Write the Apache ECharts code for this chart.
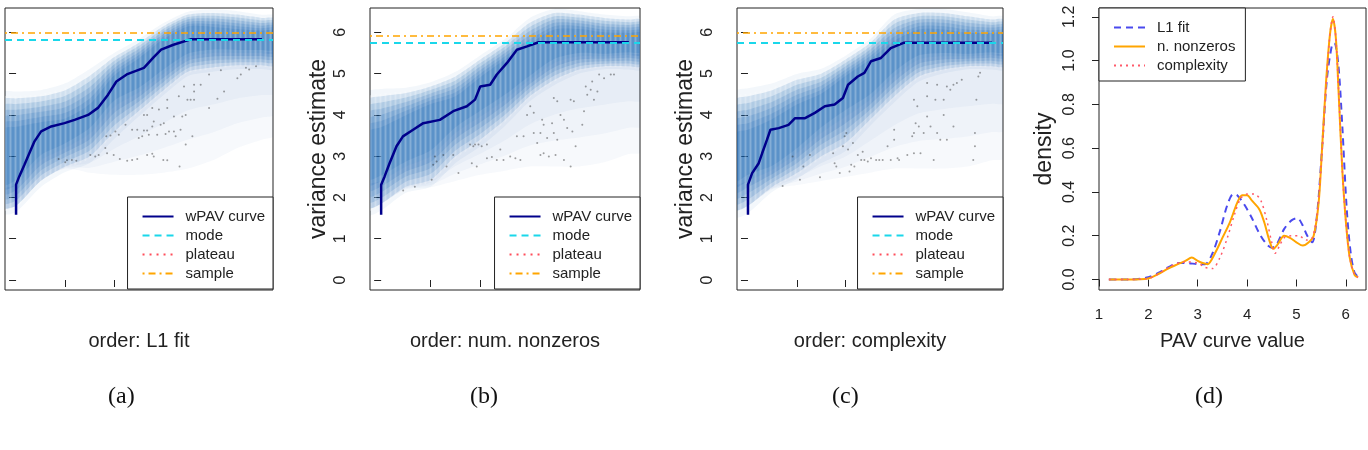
<!DOCTYPE html>
<html>
<head>
<meta charset="utf-8">
<title>wPAV curves by ordering</title>
<script src="https://cdn.jsdelivr.net/npm/echarts@6/dist/echarts.min.js"></script>
<style>
  html, body { margin: 0; padding: 0; background: #fff; }
  #chart { width: 1368px; height: 450px; }
</style>
</head>
<body>
<div id="chart"></div>
<script>
const FONT = '"Liberation Sans", Arial, sans-serif';

// axis text
const orderTitles = ["order: L1 fit", "order: num. nonzeros", "order: complexity"];
const panelTags = ["(a)", "(b)", "(c)", "(d)"];
const varianceTicks = [0, 1, 2, 3, 4, 5, 6];
const orderTicks = [0.2, 0.4, 0.6, 0.8];
const densityTicks = [0, 0.2, 0.4, 0.6, 0.8, 1.0, 1.2];
const pavTicks = [1, 2, 3, 4, 5, 6];
const varLegend = ["wPAV curve", "mode", "plateau", "sample"];
const densLegend = ["L1 fit", "n. nonzeros", "complexity"];

// horizontal reference levels per panel (a, b, c)
const modeValues = [5.83, 5.76, 5.75];
const plateauValues = [5.83, 5.76, 5.75];
const plateauStart = [0.71, 0.636, 0.64];
const sampleValues = [6.0, 5.92, 5.99];

const bandX = [-0.05, 0, 0.1, 0.2, 0.3, 0.4, 0.5, 0.6, 0.7, 0.8, 0.9, 1.0, 1.05];

const outerHiA = [4.37, 4.4, 4.45, 4.6, 4.95, 5.4, 5.75, 6.15, 6.43, 6.47, 6.43, 6.35, 6.33];
const outerLoA = [1.75, 1.8, 2.4, 2.75, 3.0, 3.6, 4.1, 4.6, 5.05, 5.15, 5.2, 5.2, 5.2];
const coreHiA = [3.8, 3.85, 3.95, 4.05, 4.4, 5.05, 5.45, 5.9, 6.2, 6.2, 6.15, 6.1, 6.1];
const coreLoA = [2.2, 2.3, 2.9, 3.2, 3.55, 4.2, 4.55, 5.0, 5.4, 5.5, 5.5, 5.5, 5.5];
const faintLoA = [1.75, 1.8, 2.4, 2.7, 2.6, 2.55, 2.55, 2.6, 2.7, 2.9, 3.2, 3.4, 3.5];

const outerHiB = [4.37, 4.45, 4.53, 4.69, 4.93, 5.34, 5.74, 6.23, 6.47, 6.43, 6.35, 6.31, 6.3];
const outerLoB = [1.75, 1.85, 2.26, 2.43, 3.0, 3.4, 3.88, 4.45, 4.85, 5.1, 5.18, 5.18, 5.18];
const coreHiB = [3.75, 3.85, 4.1, 4.35, 4.55, 5.0, 5.42, 5.83, 6.15, 6.15, 6.07, 6.05, 6.05];
const coreLoB = [2.3, 2.4, 2.75, 3.0, 3.56, 3.96, 4.37, 4.85, 5.26, 5.42, 5.42, 5.45, 5.45];
const faintLoB = [1.75, 1.85, 2.2, 2.25, 2.4, 2.55, 2.65, 2.75, 2.75, 2.75, 2.85, 3.05, 3.1];

const outerHiC = [4.37, 4.45, 4.6, 4.85, 5.0, 5.34, 5.74, 6.31, 6.47, 6.47, 6.39, 6.31, 6.3];
const outerLoC = [1.7, 1.8, 2.26, 2.59, 3.0, 3.32, 3.88, 4.45, 4.93, 5.1, 5.18, 5.18, 5.18];
const coreHiC = [3.72, 3.8, 4.04, 4.37, 4.61, 5.02, 5.42, 5.9, 6.15, 6.15, 6.07, 6.05, 6.05];
const coreLoC = [2.26, 2.4, 2.67, 3.07, 3.56, 3.96, 4.37, 4.93, 5.34, 5.42, 5.42, 5.45, 5.45];
const faintLoC = [1.7, 1.8, 2.2, 2.3, 2.4, 2.5, 2.6, 2.7, 2.7, 2.7, 2.75, 2.9, 2.95];

// wPAV curves [order, variance]
const curveA = [[0, 1.58], [0, 2.31], [0.013, 2.51], [0.034, 2.79], [0.054, 3.07], [0.075, 3.36], [0.102, 3.6], [0.143, 3.72], [0.197, 3.8], [0.238, 3.88], [0.293, 4.0], [0.333, 4.17], [0.374, 4.49], [0.408, 4.81], [0.45, 4.98], [0.52, 5.14], [0.56, 5.4], [0.59, 5.58], [0.64, 5.7], [0.71, 5.83], [1.0, 5.83]];
const curveB = [[0, 1.58], [0, 2.31], [0.014, 2.51], [0.034, 2.83], [0.062, 3.24], [0.088, 3.48], [0.129, 3.64], [0.17, 3.8], [0.237, 3.88], [0.291, 4.09], [0.346, 4.21], [0.379, 4.37], [0.4, 4.69], [0.44, 4.73], [0.467, 4.98], [0.508, 5.26], [0.548, 5.58], [0.589, 5.66], [0.636, 5.76], [1.0, 5.76]];
const curveC = [[0, 1.58], [0, 2.31], [0.017, 2.59], [0.044, 2.83], [0.058, 3.07], [0.078, 3.4], [0.092, 3.64], [0.126, 3.68], [0.166, 3.76], [0.193, 3.92], [0.234, 3.92], [0.274, 4.05], [0.315, 4.21], [0.355, 4.25], [0.389, 4.41], [0.41, 4.73], [0.45, 4.93], [0.477, 5.02], [0.504, 5.3], [0.545, 5.38], [0.585, 5.62], [0.64, 5.75], [1.0, 5.75]];

// scattered points
const dotsA = [[0.173, 2.93], [0.2, 2.85], [0.207, 2.9], [0.227, 2.91], [0.245, 2.89], [0.302, 3.03], [0.322, 2.99], [0.336, 3.03], [0.363, 3.2], [0.37, 3.07], [0.397, 3.03], [0.422, 2.93], [0.452, 2.89], [0.472, 2.91], [0.493, 2.93], [0.533, 3.03], [0.554, 3.06], [0.56, 2.99], [0.599, 2.91], [0.615, 2.9], [0.665, 2.75], [0.367, 3.48], [0.384, 3.5], [0.404, 3.6], [0.418, 3.52], [0.445, 3.76], [0.472, 3.64], [0.493, 3.64], [0.499, 3.44], [0.513, 3.48], [0.52, 3.62], [0.533, 3.62], [0.54, 3.52], [0.554, 3.72], [0.56, 3.84], [0.574, 3.52], [0.588, 3.76], [0.601, 3.8], [0.608, 3.54], [0.622, 3.6], [0.642, 3.6], [0.649, 3.48], [0.669, 3.64], [0.69, 3.28], [0.717, 3.48], [0.52, 4.0], [0.533, 4.0], [0.554, 4.17], [0.581, 4.13], [0.615, 4.37], [0.615, 4.17], [0.642, 3.96], [0.662, 4.45], [0.676, 3.96], [0.69, 4.0], [0.683, 4.69], [0.697, 4.37], [0.71, 4.37], [0.724, 4.37], [0.724, 4.73], [0.751, 4.73], [0.724, 4.57], [0.785, 4.17], [0.819, 4.39], [0.833, 5.08], [0.846, 4.57], [0.9, 4.89], [0.914, 4.98], [0.935, 5.14], [0.948, 5.1], [0.976, 5.18], [0.785, 4.98]];
const dotsB = [[0.089, 2.17], [0.136, 2.26], [0.204, 2.43], [0.21, 2.79], [0.217, 2.99], [0.224, 2.87], [0.251, 3.03], [0.264, 2.75], [0.291, 3.03], [0.312, 2.59], [0.359, 3.28], [0.366, 2.83], [0.372, 3.24], [0.379, 3.28], [0.386, 2.75], [0.393, 3.28], [0.406, 3.24], [0.427, 3.28], [0.427, 2.95], [0.447, 2.98], [0.467, 2.91], [0.494, 2.91], [0.521, 2.99], [0.542, 2.95], [0.562, 2.91], [0.481, 3.16], [0.548, 3.48], [0.575, 3.48], [0.589, 4.0], [0.602, 4.21], [0.616, 3.56], [0.63, 3.32], [0.616, 4.05], [0.643, 3.56], [0.65, 3.88], [0.656, 3.76], [0.67, 3.44], [0.677, 2.99], [0.69, 3.8], [0.697, 4.41], [0.697, 3.56], [0.711, 3.4], [0.724, 4.0], [0.711, 4.33], [0.738, 3.88], [0.738, 2.91], [0.751, 3.68], [0.765, 4.37], [0.772, 3.6], [0.778, 4.33], [0.785, 3.24], [0.812, 3.76], [0.819, 4.09], [0.826, 4.69], [0.832, 4.49], [0.846, 4.61], [0.852, 4.81], [0.859, 4.37], [0.873, 4.57], [0.88, 4.98], [0.9, 4.89], [0.927, 4.98], [0.94, 4.98], [0.765, 2.75], [0.704, 3.03], [0.643, 3.03], [0.656, 3.07]];
const dotsC = [[0.142, 2.28], [0.183, 2.99], [0.213, 2.43], [0.227, 2.75], [0.254, 3.03], [0.295, 2.49], [0.349, 3.07], [0.355, 2.83], [0.362, 2.75], [0.376, 2.59], [0.389, 3.24], [0.396, 3.48], [0.403, 3.56], [0.41, 3.16], [0.416, 2.63], [0.423, 2.79], [0.43, 3.32], [0.436, 2.75], [0.45, 3.03], [0.464, 2.91], [0.47, 3.11], [0.477, 2.91], [0.491, 2.87], [0.504, 2.95], [0.525, 2.91], [0.538, 2.91], [0.552, 2.91], [0.572, 3.24], [0.585, 2.91], [0.599, 3.4], [0.613, 2.95], [0.599, 3.64], [0.619, 2.91], [0.653, 3.03], [0.68, 3.07], [0.68, 3.56], [0.68, 4.37], [0.687, 3.8], [0.694, 4.21], [0.7, 3.72], [0.72, 3.56], [0.734, 4.45], [0.734, 3.96], [0.748, 3.72], [0.761, 2.91], [0.768, 4.37], [0.775, 3.56], [0.788, 3.4], [0.802, 4.37], [0.802, 4.0], [0.815, 4.69], [0.815, 3.4], [0.829, 4.61], [0.842, 3.72], [0.842, 4.73], [0.856, 4.77], [0.876, 4.85], [0.923, 2.91], [0.93, 3.56], [0.936, 4.37], [0.944, 4.93], [0.951, 5.02], [0.93, 3.24], [0.673, 3.48], [0.707, 3.07], [0.775, 4.73], [0.734, 4.77]];

// densities of the PAV curve value [value, density]
const densL1 = [[1.2, 0], [1.6, 0], [2.0, 0.01], [2.2, 0.03], [2.4, 0.055], [2.6, 0.075], [2.8, 0.075], [3.0, 0.07], [3.15, 0.07], [3.3, 0.12], [3.45, 0.22], [3.6, 0.34], [3.72, 0.39], [3.8, 0.385], [3.95, 0.34], [4.1, 0.28], [4.25, 0.21], [4.4, 0.16], [4.5, 0.145], [4.6, 0.16], [4.75, 0.23], [4.9, 0.27], [5.02, 0.28], [5.12, 0.25], [5.22, 0.2], [5.32, 0.17], [5.42, 0.3], [5.52, 0.6], [5.62, 0.92], [5.72, 1.07], [5.77, 1.08], [5.85, 0.98], [5.93, 0.7], [6.02, 0.32], [6.1, 0.12], [6.18, 0.03], [6.26, 0.01]];
const densNonzero = [[1.2, 0], [1.6, 0], [2.0, 0.005], [2.2, 0.025], [2.4, 0.05], [2.6, 0.07], [2.75, 0.085], [2.88, 0.1], [3.0, 0.085], [3.1, 0.075], [3.2, 0.07], [3.35, 0.12], [3.5, 0.19], [3.65, 0.26], [3.8, 0.35], [3.9, 0.385], [4.0, 0.385], [4.1, 0.36], [4.25, 0.32], [4.35, 0.26], [4.45, 0.18], [4.53, 0.14], [4.62, 0.16], [4.75, 0.2], [4.87, 0.19], [5.0, 0.17], [5.13, 0.155], [5.25, 0.17], [5.35, 0.2], [5.45, 0.35], [5.52, 0.6], [5.6, 0.9], [5.68, 1.12], [5.74, 1.19], [5.8, 1.1], [5.86, 0.83], [5.93, 0.5], [6.0, 0.27], [6.08, 0.1], [6.18, 0.02], [6.25, 0.01]];
const densComplexity = [[1.2, 0], [1.6, 0], [2.0, 0.005], [2.2, 0.025], [2.4, 0.055], [2.6, 0.075], [2.8, 0.08], [3.0, 0.075], [3.15, 0.055], [3.3, 0.05], [3.45, 0.1], [3.6, 0.19], [3.75, 0.3], [3.87, 0.37], [4.0, 0.39], [4.15, 0.39], [4.28, 0.36], [4.4, 0.27], [4.5, 0.17], [4.57, 0.12], [4.65, 0.15], [4.75, 0.19], [4.9, 0.2], [5.05, 0.2], [5.2, 0.18], [5.32, 0.19], [5.42, 0.3], [5.52, 0.58], [5.6, 0.88], [5.68, 1.12], [5.74, 1.2], [5.8, 1.1], [5.86, 0.84], [5.93, 0.5], [6.0, 0.27], [6.08, 0.1], [6.18, 0.02], [6.25, 0.01]];

const bands = [
  { hi: outerHiA, lo: outerLoA, cHi: coreHiA, cLo: coreLoA, fLo: faintLoA },
  { hi: outerHiB, lo: outerLoB, cHi: coreHiB, cLo: coreLoB, fLo: faintLoB },
  { hi: outerHiC, lo: outerLoC, cHi: coreHiC, cLo: coreLoC, fLo: faintLoC },
];
const curves = [curveA, curveB, curveC];
const dots = [dotsA, dotsB, dotsC];

// nested shading layers: 0 = outer edge, 1 = dark core
const layerT = [-0.3, 0, 0.25, 0.5, 0.75, 1.0, 1.25];
const layerAlpha = [0.05, 0.15, 0.16, 0.17, 0.17, 0.17, 0.16];
const faintSteps = [0, 1, 2];

// column texture of the binned density image
function makeStripes() {
  const c = document.createElement("canvas");
  c.width = 5;
  c.height = 4;
  const g = c.getContext("2d");
  [0.26, 0.12, 0, 0, 0.12].forEach((a, k) => {
    g.fillStyle = "rgba(255,255,255," + a + ")";
    g.fillRect(k, 0, 1, 4);
  });
  return c;
}
const stripeImage = makeStripes();

const chart = echarts.init(document.getElementById("chart"), null, { renderer: "canvas" });

const gridBoxes = [
  { left: 5, top: 8, width: 268, height: 282 },
  { left: 370, top: 8, width: 270, height: 282 },
  { left: 737, top: 8, width: 266, height: 282 },
  { left: 1099, top: 8, width: 267, height: 282 },
];

const tickStyle = { show: true, length: 7, lineStyle: { color: "#222", width: 1 } };
const nameStyle = { fontFamily: FONT, fontSize: 20, color: "#222" };
const yNameStyle = { fontFamily: FONT, fontSize: 23, color: "#222" };
const labelStyle = { fontFamily: FONT, fontSize: 15, color: "#222" };
const yLabelStyle = { fontFamily: FONT, fontSize: 16, color: "#222" };

function bandPoints(api, b, t) {
  const upper = bandX.map((x, j) => api.coord([x, b.hi[j] + t * (b.cHi[j] - b.hi[j])]));
  const lower = bandX.map((x, j) => api.coord([x, b.lo[j] + t * (b.cLo[j] - b.lo[j])])).reverse();
  return upper.concat(lower);
}

function bandRender(b) {
  return function (params, api) {
    return {
      type: "polygon",
      shape: { points: bandPoints(api, b, layerT[params.dataIndex]), smooth: 0.25 },
      style: { fill: "rgba(15,95,175," + layerAlpha[params.dataIndex] + ")" },
    };
  };
}

function stripeRender(b) {
  return function (params, api) {
    return {
      type: "polygon",
      shape: { points: bandPoints(api, b, -0.1), smooth: 0.25 },
      style: { fill: { image: stripeImage, repeat: "repeat" } },
    };
  };
}

function faintRender(b) {
  return function (params, api) {
    const k = faintSteps[params.dataIndex];
    const upper = bandX.map((x, j) => api.coord([x, b.cLo[j]]));
    const lower = bandX.map((x, j) => api.coord([x, b.fLo[j] + k * 0.3 * (b.lo[j] - b.fLo[j])])).reverse();
    return {
      type: "polygon",
      shape: { points: upper.concat(lower), smooth: 0.25 },
      style: { fill: "rgba(15,95,175,0.035)" },
    };
  };
}

const xAxes = [];
const yAxes = [];
const series = [];

for (let i = 0; i < 3; i++) {
  xAxes.push({
    gridIndex: i, type: "value", min: -0.045, max: 1.045,
    axisLine: { show: false }, splitLine: { show: false },
    axisTick: Object.assign({ customValues: orderTicks }, tickStyle),
    axisLabel: { show: false },
    name: orderTitles[i], nameLocation: "middle", nameGap: 41, nameMoveOverlap: false, nameTextStyle: nameStyle,
  });
  yAxes.push({
    gridIndex: i, type: "value", min: -0.242, max: 6.59,
    axisLine: { show: false }, splitLine: { show: false },
    axisTick: Object.assign({ customValues: varianceTicks }, tickStyle),
    axisLabel: Object.assign({ customValues: varianceTicks, rotate: 90, margin: 21 }, yLabelStyle),
    name: "variance estimate", nameLocation: "middle", nameGap: 40, nameMoveOverlap: false, nameTextStyle: yNameStyle,
  });

  series.push({
    type: "custom", xAxisIndex: i, yAxisIndex: i, silent: true, clip: true, z: 1,
    data: faintSteps.map((k) => [k]), renderItem: faintRender(bands[i]),
  });
  series.push({
    type: "custom", xAxisIndex: i, yAxisIndex: i, silent: true, clip: true, z: 1,
    data: layerT.map((t, k) => [k]), renderItem: bandRender(bands[i]),
  });
  series.push({
    type: "custom", xAxisIndex: i, yAxisIndex: i, silent: true, clip: true, z: 1,
    data: [[0]], renderItem: stripeRender(bands[i]),
  });
  series.push({
    type: "scatter", xAxisIndex: i, yAxisIndex: i, silent: true, z: 2,
    symbolSize: 2, itemStyle: { color: "rgba(40,40,40,0.55)" }, data: dots[i],
  });
  series.push({
    name: "plateau", type: "line", xAxisIndex: i, yAxisIndex: i, z: 3, symbol: "none",
    lineStyle: { color: "#ff4d5a", width: 2, type: [2, 5] },
    data: [[plateauStart[i], plateauValues[i]], [1.0, plateauValues[i]]],
  });
  series.push({
    name: "wPAV curve", type: "line", xAxisIndex: i, yAxisIndex: i, z: 4, symbol: "none",
    lineStyle: { color: "#00008b", width: 2.5 }, data: curves[i],
  });
  series.push({
    name: "mode", type: "line", xAxisIndex: i, yAxisIndex: i, z: 5, symbol: "none",
    lineStyle: { color: "#1ad7ea", width: 2, type: [7, 5] }, data: [],
    markLine: {
      silent: true, symbol: "none", label: { show: false },
      lineStyle: { color: "#1ad7ea", width: 2, type: [7, 5] },
      data: [{ yAxis: modeValues[i] }],
    },
  });
  series.push({
    name: "sample", type: "line", xAxisIndex: i, yAxisIndex: i, z: 5, symbol: "none",
    lineStyle: { color: "#ffa500", width: 1.6, type: [2, 4, 7, 4] }, data: [],
    markLine: {
      silent: true, symbol: "none", label: { show: false },
      lineStyle: { color: "#ffa500", width: 1.6, type: [2, 4, 7, 4] },
      data: [{ yAxis: sampleValues[i] }],
    },
  });
}

// panel (d)
xAxes.push({
  gridIndex: 3, type: "value", min: 1.0, max: 6.41,
  axisLine: { show: false }, splitLine: { show: false },
  axisTick: Object.assign({ customValues: pavTicks }, tickStyle),
  axisLabel: Object.assign({ customValues: pavTicks, margin: 17 }, labelStyle),
  name: "PAV curve value", nameLocation: "middle", nameGap: 41, nameMoveOverlap: false, nameTextStyle: nameStyle,
});
yAxes.push({
  gridIndex: 3, type: "value", min: -0.048, max: 1.24,
  axisLine: { show: false }, splitLine: { show: false },
  axisTick: Object.assign({ customValues: densityTicks }, tickStyle),
  axisLabel: Object.assign({ customValues: densityTicks, rotate: 90, margin: 21, formatter: (v) => v.toFixed(1) }, yLabelStyle),
  name: "density", nameLocation: "middle", nameGap: 43, nameMoveOverlap: false, nameTextStyle: yNameStyle,
});
series.push({
  name: "L1 fit", type: "line", xAxisIndex: 3, yAxisIndex: 3, symbol: "none", smooth: 0.3, z: 3,
  lineStyle: { color: "#4a4aee", width: 2, type: [7, 5] }, data: densL1,
});
series.push({
  name: "n. nonzeros", type: "line", xAxisIndex: 3, yAxisIndex: 3, symbol: "none", smooth: 0.3, z: 4,
  lineStyle: { color: "#ffa500", width: 2 }, data: densNonzero,
});
series.push({
  name: "complexity", type: "line", xAxisIndex: 3, yAxisIndex: 3, symbol: "none", smooth: 0.3, z: 5,
  lineStyle: { color: "#ff5a6a", width: 1.5, type: [2, 4] }, data: densComplexity,
});

const legendBase = {
  orient: "vertical", selectedMode: false,
  itemWidth: 31, itemHeight: 14, itemGap: 4,
  itemStyle: { opacity: 0 },
  borderColor: "#222", borderWidth: 1, borderRadius: 0, backgroundColor: "#fff",
  textStyle: { fontFamily: FONT, fontSize: 15, color: "#222", padding: [0, 0, 0, 7] },
};

const option = {
  backgroundColor: "#fff",
  animation: false,
  grid: gridBoxes.map((g) => Object.assign({
    show: true, borderColor: "#222", borderWidth: 1, backgroundColor: "transparent",
    containLabel: false, outerBoundsMode: "none",
  }, g)),
  xAxis: xAxes,
  yAxis: yAxes,
  legend: [
    Object.assign({}, legendBase, { data: varLegend, right: 1368 - 273, top: 197, padding: [12, 8, 8, 14] }),
    Object.assign({}, legendBase, { data: varLegend, right: 1368 - 640, top: 197, padding: [12, 8, 8, 14] }),
    Object.assign({}, legendBase, { data: varLegend, right: 1368 - 1003, top: 197, padding: [12, 8, 8, 14] }),
    Object.assign({}, legendBase, { data: densLegend, left: 1099, top: 8, padding: [12, 10, 8, 14] }),
  ],
  graphic: panelTags.map((tag, i) => ({
    type: "text", left: [108, 470, 832, 1195][i], top: 385,
    style: { text: tag, fontFamily: '"Liberation Serif", "Times New Roman", serif', fontSize: 24, fill: "#111", textAlign: "center", textVerticalAlign: "middle" },
  })),
  series: series,
};

chart.setOption(option);
window.addEventListener("resize", () => chart.resize());
</script>
</body>
</html>
